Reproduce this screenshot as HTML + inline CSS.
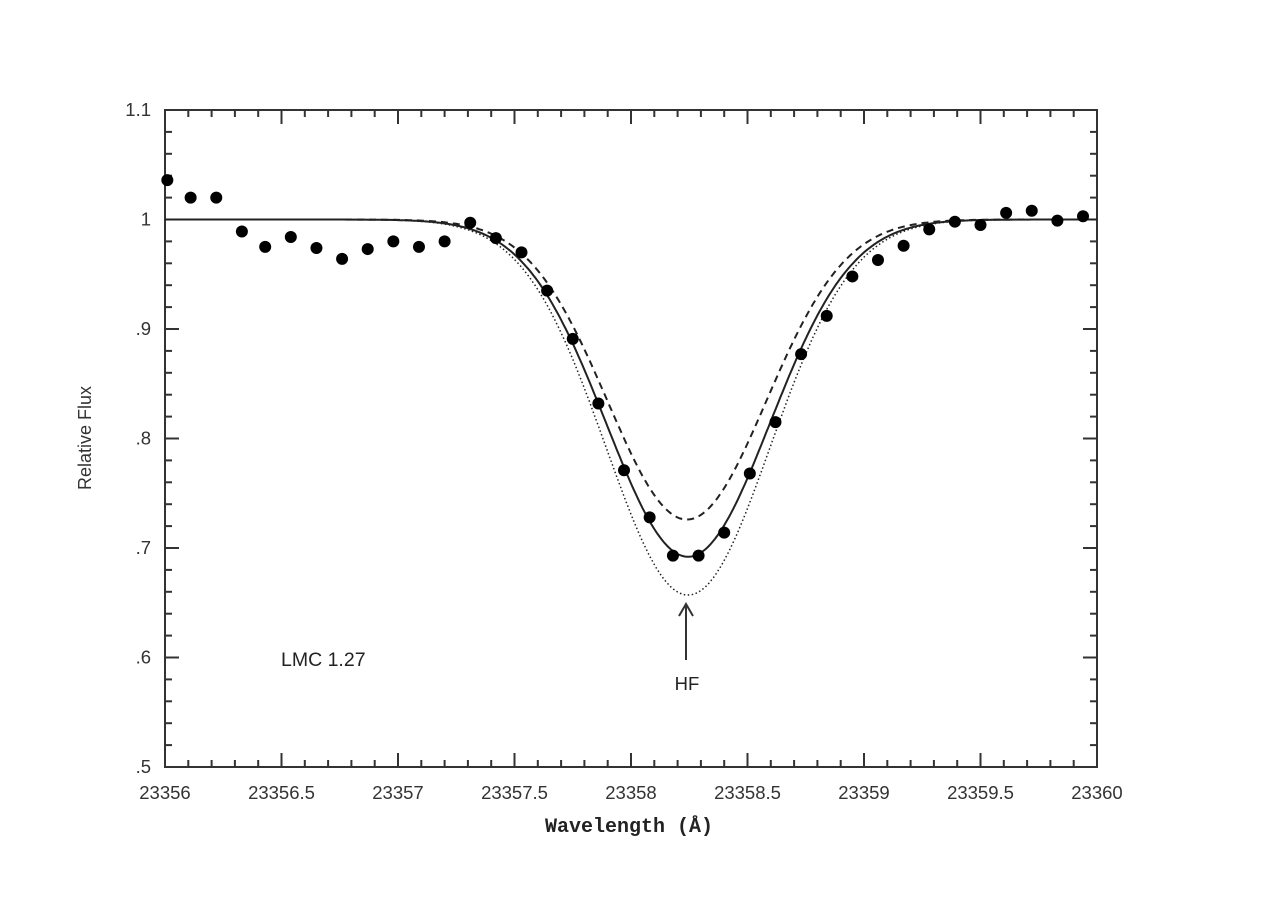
<!DOCTYPE html>
<html><head><meta charset="utf-8"><style>
html,body{margin:0;padding:0;background:#fff;}
svg{display:block;font-family:"Liberation Sans",sans-serif;}
</style></head><body>
<svg id="chart" width="1280" height="906" viewBox="0 0 1280 906" xmlns="http://www.w3.org/2000/svg"></svg>
<script>
const obsWave = [23356.01,23356.11,23356.22,23356.33,23356.43,23356.54,23356.65,23356.76,23356.87,23356.98,23357.09,23357.20,23357.31,23357.42,23357.53,23357.64,23357.75,23357.86,23357.97,23358.08,23358.18,23358.29,23358.40,23358.51,23358.62,23358.73,23358.84,23358.95,23359.06,23359.17,23359.28,23359.39,23359.50,23359.61,23359.72,23359.83,23359.94];
const obsFlux = [1.036,1.020,1.020,0.989,0.975,0.984,0.974,0.964,0.973,0.980,0.975,0.980,0.997,0.983,0.970,0.935,0.891,0.832,0.771,0.728,0.693,0.693,0.714,0.768,0.815,0.877,0.912,0.948,0.963,0.976,0.991,0.998,0.995,1.006,1.008,0.999,1.003];
// model line profiles: [center, depth, sigma]
const modelSolid = [23358.245, 0.308, 0.35];
const modelDashed = [23358.24, 0.274, 0.34];
const modelDotted = [23358.245, 0.343, 0.352];
const xTickLabels = ["23356","23356.5","23357","23357.5","23358","23358.5","23359","23359.5","23360"];
const yTickLabels = [".5",".6",".7",".8",".9","1","1.1"];

const L=165,R=1097,T=110,B=767, X0=23356,X1=23360,Y0=0.5,Y1=1.1;
const sx=v=>L+(v-X0)/(X1-X0)*(R-L);
const sy=v=>B-(v-Y0)/(Y1-Y0)*(B-T);
const svg=document.getElementById('chart');
const NS='http://www.w3.org/2000/svg';
function mk(tag,attrs,parent){const e=document.createElementNS(NS,tag);for(const k in attrs)e.setAttribute(k,attrs[k]);(parent||svg).appendChild(e);return e;}

const frame=mk('rect',{x:L,y:T,width:R-L,height:B-T,fill:'none',stroke:'#333','stroke-width':2});



const ticks=mk('g',{stroke:'#333','stroke-width':2});


for(let i=0;i<=40;i++){const x=sx(X0+i*0.1);const len=(i%5==0)?14:7;
 mk('line',{x1:x,y1:B,x2:x,y2:B-len},ticks);mk('line',{x1:x,y1:T,x2:x,y2:T+len},ticks);}
for(let i=0;i<=30;i++){const y=sy(Y0+i*0.02);const len=(i%5==0)?14:7;
 mk('line',{x1:L,y1:y,x2:L+len,y2:y},ticks);mk('line',{x1:R,y1:y,x2:R-len,y2:y},ticks);}

xTickLabels.forEach((t,i)=>{const e=mk('text',{x:sx(parseFloat(t)),y:799,'text-anchor':'middle','font-size':18.5,fill:'#333'});e.textContent=t;
 
 });
yTickLabels.forEach((t,i)=>{const e=mk('text',{x:151,y:sy(Y0+i*0.1)+6,'text-anchor':'end','font-size':18.5,fill:'#333'});e.textContent=t;
 
 });

const xt=mk('text',{x:629,y:832,'text-anchor':'middle','font-size':20,'font-weight':'bold','font-family':'Liberation Mono, monospace',fill:'#222'});
xt.textContent='Wavelength (Å)';


const yt=mk('text',{x:0,y:0,'text-anchor':'middle','font-size':18,fill:'#333',transform:'translate(91,438) rotate(-90)'});
yt.textContent='Relative Flux';



function curve(p,dash,name,w){let d='';for(let i=0;i<=400;i++){const x=X0+i*(X1-X0)/400;const y=1-p[1]*Math.exp(-((x-p[0])**2)/(2*p[2]*p[2]));d+=(i?'L':'M')+sx(x).toFixed(1)+','+sy(y).toFixed(1);}
 const e=mk('path',{d:d,fill:'none',stroke:'#222','stroke-width':w,'stroke-dasharray':dash});
 
 }
curve(modelDotted,'1.5,2.5','model-dotted',1.5);
curve(modelDashed,'7,5','model-dashed',2);
curve(modelSolid,'none','model-solid',2);

const pts=mk('g',{fill:'#000'});


obsWave.forEach((w,i)=>{const c=mk('circle',{cx:sx(w),cy:sy(obsFlux[i]),r:6},pts);
 
 });

const arr=mk('path',{d:'M686,660 L686,605 M679,616 L686,604 L693,616',fill:'none',stroke:'#333','stroke-width':2});


const hf=mk('text',{x:687,y:690,'text-anchor':'middle','font-size':18.5,fill:'#222'});hf.textContent='HF';


const lmc=mk('text',{x:281,y:666,'font-size':19.5,fill:'#222'});lmc.textContent='LMC 1.27';


</script>
</body></html>
